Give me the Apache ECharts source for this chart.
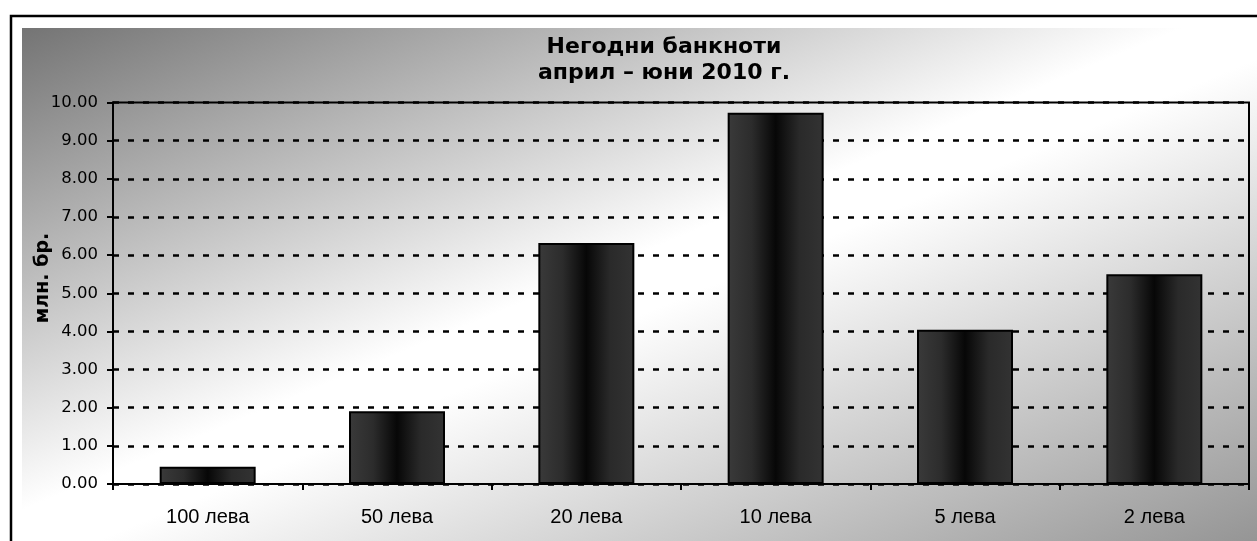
<!DOCTYPE html>
<html>
<head>
<meta charset="utf-8">
<script src="https://cdn.jsdelivr.net/npm/echarts@6/dist/echarts.min.js"></script>
<style>
html,body{margin:0;padding:0;background:#fff;}
#c{width:1257px;height:541px;}
</style>
</head>
<body>
<div id="c"></div>
<script>
const categories = ['100 лева', '50 лева', '20 лева', '10 лева', '5 лева', '2 лева'];
const values = [0.45, 1.91, 6.32, 9.73, 4.04, 5.50];
const titleLines = ['Негодни банкноти', 'април – юни 2010 г.'];
const yAxisTitle = 'млн. бр.';

const chart = echarts.init(document.getElementById('c'), null, {renderer: 'canvas'});
const barGrad = new echarts.graphic.LinearGradient(0, 0, 1, 0, [
  {offset: 0, color: '#3a3a3a'},
  {offset: 0.25, color: '#2c2c2c'},
  {offset: 0.5, color: '#070707'},
  {offset: 0.75, color: '#2a2a2a'},
  {offset: 1, color: '#333333'}
]);
// background: isolines run along the top-right / bottom-left diagonal
const BW = 1235, BH = 513;
const f = 2 * BW * BH / (BW * BW + BH * BH);
const bgGrad = new echarts.graphic.LinearGradient(0, 0, BH * f / BW, BW * f / BH, [
  {offset: 0, color: '#747474'},
  {offset: 0.47, color: '#ffffff'},
  {offset: 0.53, color: '#ffffff'},
  {offset: 1, color: '#959595'}
]);
chart.setOption({
  animation: false,
  backgroundColor: '#ffffff',
  graphic: [
    {type: 'rect', z: -10, silent: true,
      shape: {x: 11, y: 16, width: 1260, height: 540},
      style: {fill: '#ffffff', stroke: '#000', lineWidth: 2.5}},
    {type: 'rect', z: -9, silent: true,
      shape: {x: 22, y: 28, width: BW, height: BH},
      style: {fill: bgGrad}},
    {type: 'text', z: 10, x: 664, y: 34,
      style: {text: titleLines.join('\n'), fontFamily: 'DejaVu Sans', fontWeight: 'bold', fontSize: 22, lineHeight: 26, fill: '#000', align: 'center'}},
    {type: 'text', z: 10, x: 34, y: 278, rotation: Math.PI / 2, originX: 0, originY: 0,
      style: {text: yAxisTitle, fontFamily: 'DejaVu Sans', fontWeight: 'bold', fontSize: 19, fill: '#000', align: 'center', verticalAlign: 'top'}}
  ],
  grid: {left: 113, right: 8, top: 102.5, bottom: 57, show: true, borderColor: '#000', borderWidth: 2, backgroundColor: 'transparent'},
  xAxis: {
    type: 'category', data: categories,
    axisLine: {lineStyle: {color: '#000', width: 2}},
    axisTick: {show: true, length: 6, lineStyle: {color: '#000', width: 2}},
    axisLabel: {fontFamily: 'Liberation Sans', fontSize: 20, color: '#000', margin: 23}
  },
  yAxis: {
    type: 'value', min: 0, max: 10, interval: 1,
    axisLine: {show: true, lineStyle: {color: '#000', width: 2}},
    axisTick: {show: true, length: 6, lineStyle: {color: '#000', width: 2}},
    axisLabel: {fontFamily: 'DejaVu Sans', fontSize: 16.5, color: '#000', margin: 15, formatter: v => v.toFixed(2)},
    splitLine: {show: true, lineStyle: {color: '#000', width: 2.5, type: [6, 9]}}
  },
  series: [{
    type: 'bar', data: values, barWidth: 96,
    itemStyle: {color: barGrad, borderColor: '#000', borderWidth: 2}
  }]
});
</script>
</body>
</html>
